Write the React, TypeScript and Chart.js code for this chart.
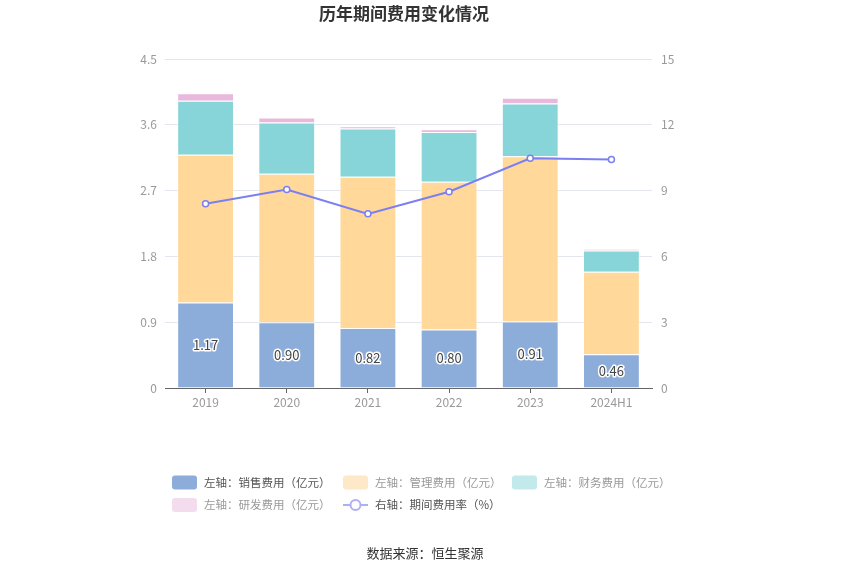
import React, { useEffect, useRef } from 'react';
import { Chart, registerables } from 'chart.js';

Chart.register(...registerables);

const categories = ['2019', '2020', '2021', '2022', '2023', '2024H1'];
const salesExpense = [1.17, 0.9, 0.82, 0.8, 0.91, 0.46];
const adminExpense = [2.02, 2.03, 2.07, 2.02, 2.26, 1.13];
const financeExpense = [0.74, 0.7, 0.66, 0.68, 0.72, 0.29];
const rdExpense = [0.1, 0.07, 0.03, 0.04, 0.08, 0.02];
const expenseRate = [8.4, 9.05, 7.94, 8.95, 10.47, 10.42];

const seriesNames = [
  '左轴：销售费用（亿元）',
  '左轴：管理费用（亿元）',
  '左轴：财务费用（亿元）',
  '左轴：研发费用（亿元）',
  '右轴：期间费用率（%）',
];

const titleText = '历年期间费用变化情况';
const sourceText = '数据来源：恒生聚源';

const FONT = "'Noto Sans CJK SC', 'Noto Sans', sans-serif";

const barColors = ['#8cadda', '#ffd89a', '#88d5d9', '#e8b9dc'];
const legendColors = ['#8cadda', '#fde8c8', '#c2e9eb', '#f3dcee'];
const legendTextColors = ['#555', '#999', '#999', '#999', '#555'];
const lineColor = '#7b7ff0';
const lineLegendColor = '#aeb0f5';

export default function App() {
  const ref = useRef<HTMLCanvasElement>(null);

  useEffect(() => {
    const canvas = ref.current;
    if (!canvas) return;

    const overlay = {
      id: 'overlay',
      afterDatasetsDraw(chart: any) {
        const c = chart.ctx as CanvasRenderingContext2D;
        const meta = chart.getDatasetMeta(0);
        c.save();
        c.font = `13px ${FONT}`;
        c.textAlign = 'center';
        c.textBaseline = 'middle';
        c.lineJoin = 'round';
        meta.data.forEach((bar: any, i: number) => {
          const p = bar.getProps(['x', 'y', 'base'], true);
          const cy = (p.y + p.base) / 2;
          const t = salesExpense[i].toFixed(2);
          c.lineWidth = 3;
          c.strokeStyle = '#fff';
          c.strokeText(t, p.x, cy);
          c.fillStyle = '#444';
          c.fillText(t, p.x, cy);
        });
        c.restore();
      },
      afterDraw(chart: any) {
        const c = chart.ctx as CanvasRenderingContext2D;
        c.save();
        // title
        c.font = `bold 17px ${FONT}`;
        c.fillStyle = '#333';
        c.textAlign = 'center';
        c.textBaseline = 'middle';
        c.fillText(titleText, 404, 14);

        // legend
        const cols = [172, 343, 512];
        const rows = [482.5, 505];
        c.font = `11.5px ${FONT}`;
        c.textAlign = 'left';
        seriesNames.forEach((name, i) => {
          const x = cols[i % 3];
          const y = rows[Math.floor(i / 3)];
          if (i < 4) {
            c.fillStyle = legendColors[i];
            c.beginPath();
            (c as any).roundRect(x, y - 7, 25, 14, 3);
            c.fill();
          } else {
            c.strokeStyle = lineLegendColor;
            c.lineWidth = 2;
            c.beginPath();
            c.moveTo(x, y);
            c.lineTo(x + 25, y);
            c.stroke();
            c.beginPath();
            c.arc(x + 12.5, y, 5, 0, Math.PI * 2);
            c.fillStyle = '#fff';
            c.fill();
            c.stroke();
          }
          c.fillStyle = legendTextColors[i];
          c.fillText(name, x + 32, y);
        });

        // source
        c.font = `13px ${FONT}`;
        c.fillStyle = '#333';
        c.textAlign = 'center';
        c.fillText(sourceText, 425, 553);
        c.restore();
      },
    };

    const barCommon = {
      type: 'bar' as const,
      stack: 'expense',
      yAxisID: 'y',
      borderColor: 'rgba(255,255,255,0.55)',
      borderWidth: 1,
      barPercentage: 0.7,
      categoryPercentage: 1,
      order: 1,
    };

    const chart = new Chart(canvas, {
      type: 'bar',
      data: {
        labels: categories,
        datasets: [
          { ...barCommon, label: seriesNames[0], data: salesExpense, backgroundColor: barColors[0] },
          { ...barCommon, label: seriesNames[1], data: adminExpense, backgroundColor: barColors[1] },
          { ...barCommon, label: seriesNames[2], data: financeExpense, backgroundColor: barColors[2] },
          { ...barCommon, label: seriesNames[3], data: rdExpense, backgroundColor: barColors[3] },
          {
            type: 'line' as const,
            label: seriesNames[4],
            data: expenseRate,
            yAxisID: 'y1',
            borderColor: lineColor,
            backgroundColor: '#fff',
            borderWidth: 2,
            pointRadius: 3,
            pointBorderWidth: 1.5,
            pointBackgroundColor: '#fff',
            pointBorderColor: lineColor,
            tension: 0,
            order: 0,
          } as any,
        ],
      },
      options: {
        animation: false,
        responsive: false,
        devicePixelRatio: 1,
        layout: { padding: { top: 59, left: 120, right: 153, bottom: 157 } },
        plugins: {
          legend: { display: false },
          title: { display: false },
          tooltip: { enabled: false },
        },
        scales: {
          x: {
            stacked: true,
            afterFit: (s: any) => { s.height = 30; },
            grid: {
              display: true,
              drawOnChartArea: false,
              drawTicks: true,
              tickLength: 5,
              offset: false,
              color: '#666',
            },
            border: { display: true, color: '#666', width: 1 },
            ticks: { color: '#999', font: { family: FONT, size: 12 }, padding: 2 },
          },
          y: {
            stacked: true,
            position: 'left',
            min: 0,
            max: 4.5,
            afterFit: (s: any) => { s.width = 45; },
            afterBuildTicks: (s: any) => {
              s.ticks = [0, 0.9, 1.8, 2.7, 3.6, 4.5].map((v) => ({ value: v }));
            },
            grid: { color: '#e3e6ef', drawTicks: false, lineWidth: 1 },
            border: { display: false },
            ticks: {
              color: '#999',
              font: { family: FONT, size: 12 },
              padding: 8,
              callback: (v: any) => String(Number(Number(v).toFixed(1))),
            },
          },
          y1: {
            position: 'right',
            min: 0,
            max: 15,
            afterFit: (s: any) => { s.width = 45; },
            afterBuildTicks: (s: any) => {
              s.ticks = [0, 3, 6, 9, 12, 15].map((v) => ({ value: v }));
            },
            grid: { drawOnChartArea: false, drawTicks: false },
            border: { display: false },
            ticks: {
              color: '#999',
              font: { family: FONT, size: 12 },
              padding: 9,
              callback: (v: any) => String(v),
            },
          },
        },
      },
      plugins: [overlay],
    } as any);

    return () => chart.destroy();
  }, []);

  return (
    <div style={{ position: 'absolute', left: 0, top: 0, width: 850, height: 575, background: '#fff' }}>
      <canvas ref={ref} width={850} height={575} style={{ width: 850, height: 575 }} />
    </div>
  );
}
